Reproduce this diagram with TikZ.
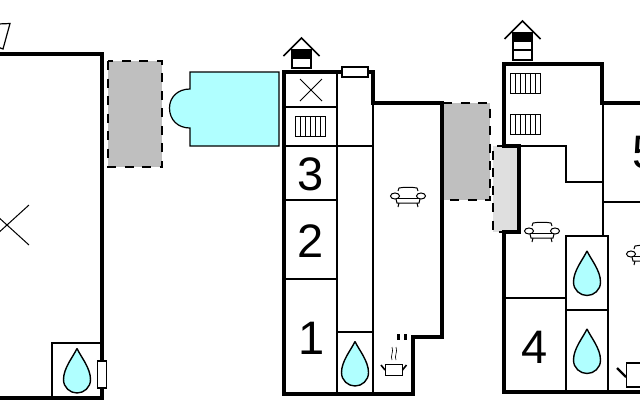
\documentclass[tikz,border=0pt]{standalone}
\usepackage{fontspec}
\setmainfont{Liberation Sans}
\definecolor{poolcyan}{HTML}{B0FFFF}
\tikzset{
	wall/.style={line width=4.5},
	inner wall/.style={line width=2},
	thin line/.style={line width=1},
	terrace/.style={draw=black, line width=1.8, dash pattern=on 9pt off 8.5pt},
	number/.style={font=\fontsize{47}{47}\selectfont, text=black, inner sep=0pt},
	drop/.pic={
		\draw [fill=poolcyan, line width=1.4] (0, -22.5) .. controls (4, -14) and (13.5, -3) .. (13.5, 8.5)
			.. controls (13.5, 16.5) and (7, 22) .. (0, 22) .. controls (-7, 22) and (-13.5, 16.5) .. (-13.5, 8.5)
			.. controls (-13.5, -3) and (-4, -14) .. (0, -22.5);
	},
	radiator/.pic={
		\draw [line width=.8] (0, 0) rectangle (30, 20);
		\foreach \i in {5, 10, 15, 20, 25} {
			\draw [line width=.8] (\i, 0) -- (\i, 20);
		}
	},
	sofa/.pic={
		\draw [line width=1, fill=white] (-10, -6) -- (-9, -9) .. controls (-5, -10) and (5, -10) .. (9, -9) -- (10, -6);
		\draw [line width=1] (-12, 2) -- (-11, 6) -- (11, 6) -- (12, 2);
		\draw [line width=1] (-12, 1) -- (12, 1);
		\draw [line width=1, fill=white] (-13, -1) ellipse (4.5 and 3);
		\draw [line width=1, fill=white] (13, -1) ellipse (4.5 and 3);
		\draw [line width=1] (-9, 6) -- (-10, 10);
		\draw [line width=1] (9, 6) -- (10, 10);
	},
	pot/.pic={
		\draw [line width=1] (-9, -5) rectangle (8.5, 6);
		\draw [line width=1.6] (-13, -4) -- (-9, 1);
		\draw [line width=1.6] (12.5, -4) -- (8.5, 1);
		\draw [line width=.6] (-2, -9) .. controls (-4, -13) and (0, -17) .. (-2, -22);
		\draw [line width=.6] (2, -9) .. controls (0, -13) and (4, -17) .. (2, -22);
	},
	chimney/.pic={
		\draw [line width=1.5] (-9.5, 0) rectangle (9.5, #1);
		\fill (-9.5, 0) rectangle (9.5, 9);
		\draw [line width=1.5] (-18, 6) -- (0, -12) -- (18, 6);
	},
}
\begin{document}
\begin{tikzpicture}[x=1pt, y=-1pt]
	\useasboundingbox (0, 0) rectangle (640, 400);
	\clip (0, 0) rectangle (640, 400);
	% left house
	\draw [line width=1.2, fill=white] (-2, 24) -- (10, 23.5) -- (3, 49) -- (-2, 47);
	\draw [inner wall, line width=1.4] (52, 398) -- (52, 343) -- (102, 343);
	\draw [wall] (-5, 54) -- (102, 54) -- (102, 398) -- (-5, 398);
	\draw [thin line] (-15, 205) -- (29, 245);
	\draw [thin line] (-15, 245) -- (29, 205);
	\pic at (77, 371) {drop};
	\draw [line width=1.2, fill=white] (97.5, 361) rectangle (106.5, 388);
	\draw [terrace, fill=gray!50] (108, 61) rectangle (162, 167);
	\draw [fill=poolcyan, line width=1.2] (190, 72) -- (279, 72) -- (279, 146) -- (190, 146) -- (190, 128)
		.. controls (178, 128) and (169.5, 120) .. (169.5, 108) .. controls (169.5, 97) and (178, 89) .. (190, 89) -- cycle;
	% middle house
	\fill [gray!50] (443, 103) rectangle (490, 200);
	\draw [terrace] (443, 103) -- (490, 103) -- (490, 200) -- (443, 200);
	\draw [inner wall] (336.5, 72) -- (336.5, 394);
	\draw [inner wall] (372.5, 103) -- (372.5, 394);
	\draw [inner wall] (284, 107) -- (336, 107);
	\draw [inner wall] (284, 146) -- (372, 146);
	\draw [inner wall] (284, 200) -- (336, 200);
	\draw [inner wall] (284, 279) -- (336, 279);
	\draw [inner wall] (336, 332) -- (372, 332);
	\draw [wall] (284, 72) -- (373, 72) -- (373, 103) -- (442, 103) -- (442, 337) -- (413, 337) -- (413, 394) -- (284, 394) -- cycle;
	\draw [line width=3] (398, 334) -- (398, 340);
	\draw [line width=3] (405, 334) -- (405, 340);
	\draw [line width=1.2, fill=white] (342, 67) rectangle (368, 77);
	\draw [thin line] (300, 79) -- (322, 101);
	\draw [thin line] (300, 101) -- (322, 79);
	\pic at (295.5, 116) {radiator};
	\node [number] (num3) at (311, 174) {3};
	\node [number] (num2) at (311, 241) {2};
	\node [number] (num1) at (312, 338) {1};
	\pic at (355, 364) {drop};
	\pic at (408, 197) {sofa};
	\pic at (394, 369) {pot};
	\pic at (301.5, 50) {chimney=18};
	% right house
	\fill [gray!25] (493, 146) rectangle (519, 232);
	\draw [terrace] (506, 146) -- (493, 146) -- (493, 232) -- (506, 232);
	\draw [inner wall] (519, 146) -- (565.5, 146) -- (565.5, 182) -- (602.5, 182);
	\draw [inner wall] (602.5, 103) -- (602.5, 235);
	\draw [inner wall] (602, 201.5) -- (645, 201.5);
	\draw [inner wall] (504, 298) -- (565, 298);
	\draw [inner wall] (565.5, 392) -- (565.5, 235.5) -- (608, 235.5) -- (608, 392);
	\draw [inner wall] (565, 310) -- (608, 310);
	\draw [wall] (645, 103) -- (602, 103) -- (602, 64) -- (504, 64) -- (504, 146) -- (519, 146) -- (519, 232) -- (504, 232) -- (504, 392) -- (645, 392);
	\pic at (510, 73) {radiator};
	\pic at (510, 114) {radiator};
	\pic at (587, 273.5) {drop};
	\pic at (587, 351.5) {drop};
	\node [number] (num4) at (535, 347) {4};
	\node [number] (num5) at (646, 153) {5};
	\pic at (542, 232) {sofa};
	\pic at (644, 255) {sofa};
	\pic at (522.5, 33) {chimney=27};
	\draw [line width=1.5] (513, 50) -- (532, 50);
	\draw [line width=1.2] (645, 363) -- (626.5, 363) -- (626.5, 387) -- (645, 387);
	\draw [line width=2.2] (617, 368) -- (626, 377);
\end{tikzpicture}
\end{document}
